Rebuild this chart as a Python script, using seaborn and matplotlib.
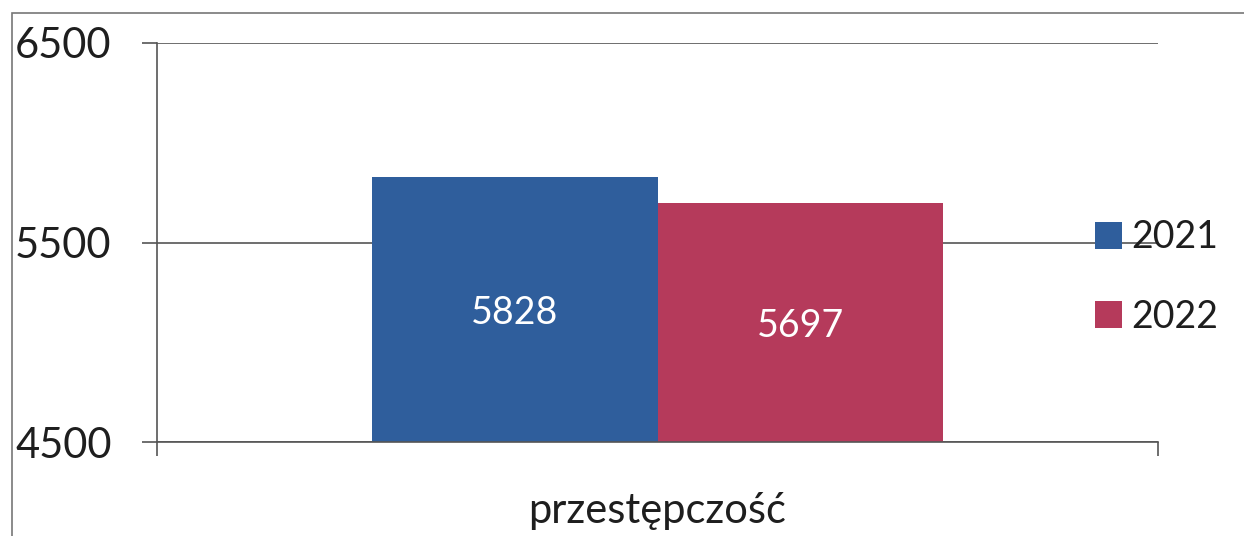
import matplotlib.pyplot as plt
import pandas as pd
import seaborn as sns
from matplotlib.patches import Rectangle

categories = ["przestępczość", "przestępczość"]
years = ["2021", "2022"]
values = [5828, 5697]
colors = ["#2f5e9c", "#b53a5b"]

df = pd.DataFrame({"kategoria": categories, "rok": years, "liczba": values})

sns.set_theme(style="white")
plt.rcParams["font.family"] = ["Lato", "DejaVu Sans"]

fig = plt.figure(figsize=(12.44, 5.36), dpi=100)
ax = fig.add_axes([157 / 1244, 1 - 442 / 536, (1158 - 157) / 1244, (442 - 43) / 536])

sns.barplot(data=df, x="kategoria", y="liczba", hue="rok", palette=colors,
            width=0.57, saturation=1, linewidth=0, ax=ax)

ax.set_ylim(4500, 6500)
ax.set_yticks([4500, 5500, 6500])
ax.set_xlim(-0.5, 0.5)
ax.yaxis.grid(True, color="#555555", linewidth=1.2)
ax.set_axisbelow(True)
for side in ["top", "right"]:
    ax.spines[side].set_visible(False)
for side in ["left", "bottom"]:
    ax.spines[side].set_color("#555555")
    ax.spines[side].set_linewidth(1.2)

ax.set_yticklabels(["4500", "5500", "6500"], ha="left")
ax.tick_params(axis="y", left=True, length=10.8, width=1.2, color="#555555",
               labelsize=30, pad=91.4, labelcolor="#1e1e1e")
ax.set_xticks([-0.5, 0.5], minor=True)
ax.tick_params(axis="x", which="minor", bottom=True, length=10, width=1.2, color="#555555")
ax.tick_params(axis="x", which="major", bottom=False, labelsize=30, pad=30,
               labelcolor="#1e1e1e")
ax.set_xlabel("")
ax.set_ylabel("")

for container in ax.containers:
    for bar, v in zip(container, container.datavalues):
        ax.text(bar.get_x() + bar.get_width() / 2, (4500 + v) / 2 - 15, f"{v:.0f}",
                ha="center", va="center", color="white", fontsize=27)

leg = ax.legend(loc="center left", bbox_to_anchor=(1080 / 1244, 1 - 277 / 536),
                bbox_transform=fig.transFigure, frameon=False, fontsize=27,
                handlelength=0.72, handleheight=0.72, handletextpad=0.25,
                labelspacing=1.15, borderaxespad=0)
for t in leg.get_texts():
    t.set_color("#1e1e1e")

fig.patches.append(Rectangle((12 / 1244, -0.05), 1.2, 1 - 13 / 536 + 0.05,
                             transform=fig.transFigure, fill=False,
                             edgecolor="#777777", linewidth=1.2))

fig.savefig("out.png", dpi=100)
plt.close(fig)
